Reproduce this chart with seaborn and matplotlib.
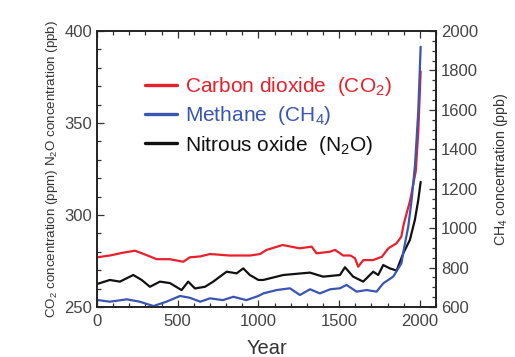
import matplotlib
matplotlib.use("Agg")
import matplotlib.pyplot as plt
import seaborn as sns
from matplotlib.ticker import MultipleLocator
from matplotlib.lines import Line2D

# ---- data ----
co2_year = [0, 80, 160, 235, 290, 370, 450, 535, 575, 640, 700, 820, 950, 1010, 1050, 1150,
            1255, 1330, 1360, 1440, 1475, 1525, 1570, 1598, 1618, 1650, 1710, 1765, 1805,
            1855, 1885, 1900, 1940, 1975, 1990, 2005]
co2 = [277, 278, 279.5, 280.6, 278.8, 276, 276, 274.6, 277, 277.5, 278.8, 278, 278, 278.8,
       281, 283.7, 281.9, 282.8, 279.2, 280, 281, 278, 278, 276.5, 271.9, 275.5, 275.5,
       277.3, 281.9, 284.6, 288.2, 295, 308, 324, 345, 378]

ch4_year = [0, 80, 185, 265, 350, 430, 515, 575, 640, 700, 780, 845, 925, 1000, 1030, 1113,
            1195, 1257, 1320, 1380, 1445, 1505, 1546, 1608, 1670, 1732, 1773, 1835, 1886,
            1900, 1928, 1949, 1970, 1990, 2005]
ch4 = [636, 627, 639, 627, 605, 627, 656, 647, 627, 644, 635, 652, 635, 656, 669, 686, 695,
       661, 690, 669, 690, 695, 712, 678, 686, 678, 720, 754, 822, 889, 1007, 1143, 1320,
       1590, 1920]

n2o_year = [0, 80, 142, 225, 277, 328, 390, 452, 524, 565, 607, 669, 720, 803, 865, 906, 947,
            1000, 1030, 1154, 1319, 1401, 1505, 1536, 1587, 1649, 1711, 1742, 1773, 1814,
            1856, 1897, 1938, 1969, 1990, 2005]
n2o = [262.5, 264.7, 263.8, 267.4, 264.7, 261, 263.8, 263, 259.2, 263.8, 260.1, 261, 263.8,
       269.2, 268.3, 271, 267.4, 264.7, 264.7, 267.4, 268.7, 266.5, 267.4, 271.6, 266.5,
       263.8, 269.2, 267.4, 272.8, 271, 269.8, 279.2, 286.4, 297.3, 308, 318]

labels = ["Carbon dioxide  (CO$_\\mathregular{2}$)", "Methane  (CH$_\\mathregular{4}$)",
          "Nitrous oxide  (N$_\\mathregular{2}$O)"]
colors = ["#e8202c", "#3a55b2", "#111111"]

xticks = [0, 500, 1000, 1500, 2000]
left_ticks = [250, 300, 350, 400]
right_ticks = [600, 800, 1000, 1200, 1400, 1600, 1800, 2000]

# ---- style ----
sns.set_style("ticks")
plt.rcParams["font.family"] = ["Liberation Sans", "DejaVu Sans"]
plt.rcParams["mathtext.fontset"] = "custom"
plt.rcParams["mathtext.rm"] = "Liberation Sans"
plt.rcParams["mathtext.it"] = "Liberation Sans:italic"
plt.rcParams["mathtext.bf"] = "Liberation Sans:bold"

fig = plt.figure(figsize=(5.15, 3.57), dpi=100)
ax = fig.add_axes([0.1883, 0.14, 0.6583, 0.7732])
ax2 = ax.twinx()

lw = 1.6
sns.lineplot(x=co2_year, y=co2, ax=ax, color=colors[0], linewidth=lw, zorder=3)
sns.lineplot(x=n2o_year, y=n2o, ax=ax, color=colors[2], linewidth=lw, zorder=2)
sns.lineplot(x=ch4_year, y=ch4, ax=ax2, color=colors[1], linewidth=lw, zorder=1)

ax.set_xlim(0, 2100)
ax.set_ylim(250, 400)
ax2.set_ylim(600, 2000)

ax.set_xticks(xticks)
ax.set_yticks(left_ticks)
ax2.set_yticks(right_ticks)
ax.xaxis.set_minor_locator(MultipleLocator(100))
ax.yaxis.set_minor_locator(MultipleLocator(10))
ax2.yaxis.set_minor_locator(MultipleLocator(50))

tick_color = "#444444"
ax.tick_params(axis="both", which="both", direction="in", top=True, right=False,
               labelsize=12, labelcolor=tick_color, color="#333333", width=0.9)
ax.tick_params(axis="x", which="major", pad=5)
ax.tick_params(which="major", length=5)
ax.tick_params(which="minor", length=3)
ax2.tick_params(axis="y", which="both", direction="in", labelsize=12,
                labelcolor=tick_color, color="#333333", width=0.9)
ax2.tick_params(which="major", length=5)
ax2.tick_params(which="minor", length=3)

for a in (ax, ax2):
    for s in a.spines.values():
        s.set_visible(True)
        s.set_linewidth(1.2)
        s.set_color("#222222")

ax.set_xlabel("Year", fontsize=14.5, color="#333333", labelpad=7)
ax.set_ylabel("CO$_\\mathregular{2}$ concentration (ppm) N$_\\mathregular{2}$O concentration (ppb)",
              fontsize=9.6, color="#333333", labelpad=3)
ax2.set_ylabel("CH$_\\mathregular{4}$ concentration (ppb)", fontsize=10.2, color="#333333",
               labelpad=10)

handles = [Line2D([], [], color=c, linewidth=2.4) for c in colors]
leg = ax.legend(handles, labels, loc="upper left", bbox_to_anchor=(0.1416, 0.84),
                frameon=False, fontsize=15, handlelength=1.55, handletextpad=0.35,
                labelspacing=0.3, borderpad=0, borderaxespad=0, labelcolor="linecolor")

fig.savefig("out.png", dpi=100)
